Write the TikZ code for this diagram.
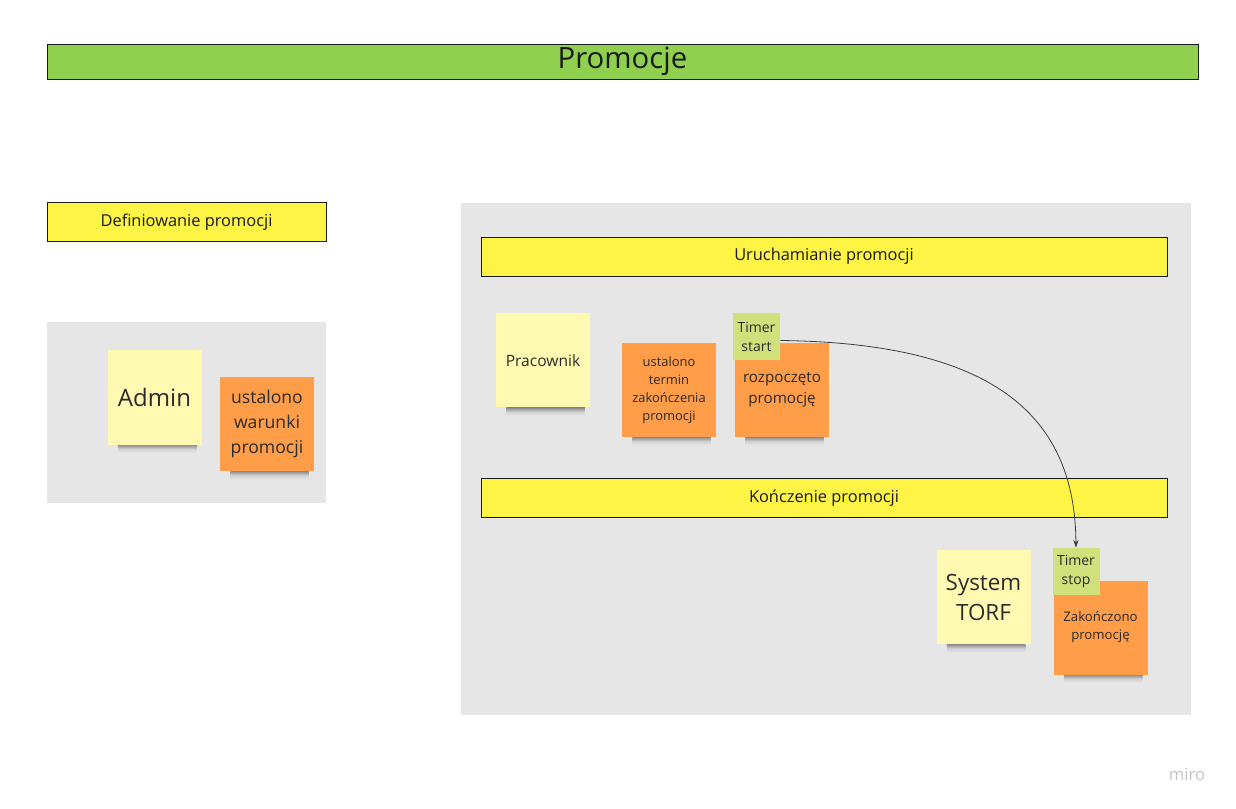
\documentclass[tikz,border=0pt]{standalone}
\usepackage{fontspec}
\setmainfont{Open Sans}
\usetikzlibrary{arrows.meta}
\definecolor{titlegreen}{HTML}{8FD14F}
\definecolor{baryellow}{HTML}{FEF445}
\definecolor{panelgrey}{HTML}{E6E6E6}
\definecolor{stickyyellow}{HTML}{FFF9B1}
\definecolor{stickyorange}{HTML}{FF9D48}
\definecolor{stickygreen}{HTML}{D0E17B}
\definecolor{inkdark}{HTML}{1A1A1A}
\definecolor{inktext}{HTML}{2B2B2B}
\definecolor{mirogrey}{HTML}{C4C4CC}
\pgfdeclarelayer{bg}
\pgfdeclarelayer{shadowlayer}
\pgfsetlayers{bg,shadowlayer,main}
\tikzset{
  titlebar/.style={draw=inkdark, line width=0.6pt, fill=titlegreen, minimum height=35*0.75pt, inner sep=0pt, text=inkdark, font=\fontsize{22}{26}\selectfont},
  lanebar/.style={draw=inkdark, line width=0.6pt, fill=baryellow, minimum height=39*0.75pt, inner sep=0pt, text=inkdark, font=\fontsize{12.3}{15}\selectfont},
  panel/.style={fill=panelgrey},
  sticky/.style={minimum width=94*0.75pt, minimum height=94*0.75pt, inner sep=0pt, align=center, text=inktext},
  stickyY/.style={sticky, fill=stickyyellow},
  stickyO/.style={sticky, fill=stickyorange},
  stickyG/.style={minimum width=47*0.75pt, minimum height=47*0.75pt, inner sep=0pt, align=center, text=inktext, fill=stickygreen, font=\fontsize{10.5}{14.2}\selectfont},
  connector/.style={draw=inkdark!85, line width=0.6pt, -{Stealth[length=6pt,width=4pt]}},
}
\newcommand{\stickyshadow}[1]{%
  \begin{pgfonlayer}{shadowlayer}
    \shade[top color=black!45, bottom color=panelgrey, middle color=black!18]
      ([xshift=8pt]#1.south west) rectangle ([xshift=-4pt,yshift=-6pt]#1.south east);
  \end{pgfonlayer}}
\begin{document}
\begin{tikzpicture}[x=0.75pt, y=-0.75pt]
\begin{pgfonlayer}{bg}
\fill[white] (0,0) rectangle (1236,809);
\fill[panel] (47,322) rectangle (326,503);
\fill[panel] (461,203) rectangle (1191,715);
\end{pgfonlayer}
\useasboundingbox (0,0) rectangle (1236,809);

% title
\node[titlebar, minimum width=1151*0.75pt] (title) at (622.5,61.5) {Promocje};

% left section
\node[lanebar, minimum width=279*0.75pt] (defbar) at (186.5,222) {Definiowanie promocji};

\node[stickyY, font=\fontsize{18}{22}\selectfont] (admin) at (154.5,397.5) {Admin};
\stickyshadow{admin}
\node[stickyO, font=\fontsize{13.2}{18.5}\selectfont] (warunki) at (267,424) {ustalono\\warunki\\promocji};
\stickyshadow{warunki}

% right section
\node[lanebar, minimum width=686*0.75pt] (urubar) at (824,256.5) {Uruchamianie promocji};
\node[lanebar, minimum width=686*0.75pt] (konbar) at (824,498) {Kończenie promocji};

\node[stickyY, font=\fontsize{11.7}{15}\selectfont] (pracownik) at (543,360.5) {Pracownik};
\stickyshadow{pracownik}
\node[stickyO, font=\fontsize{9.7}{13.5}\selectfont] (termin) at (669,390) {ustalono\\termin\\zakończenia\\promocji};
\stickyshadow{termin}
\node[stickyO, font=\fontsize{11.4}{15.3}\selectfont] (rozpoczeto) at (782,390) {rozpoczęto\\promocję};
\stickyshadow{rozpoczeto}
\node[stickyG] (tstart) at (756.5,336.5) {Timer\\start};

\node[stickyY, font=\fontsize{16.8}{22.5}\selectfont] (torf) at (983.5,597) {System\\TORF};
\stickyshadow{torf}
\node[stickyO, font=\fontsize{9.9}{13.5}\selectfont] (zakonczono) at (1100.5,627.5) {Zakończono\\promocję};
\stickyshadow{zakonczono}
\node[stickyG] (tstop) at (1076,571.5) {Timer\\stop};

\draw[connector] ([yshift=-4*0.75pt]tstart.east) .. controls (1000,343) and (1075,420) .. (tstop.north);

\node[text=mirogrey, font=\fontsize{12.5}{14}\selectfont] (miro) at (1187,774) {miro};
\end{tikzpicture}
\end{document}
